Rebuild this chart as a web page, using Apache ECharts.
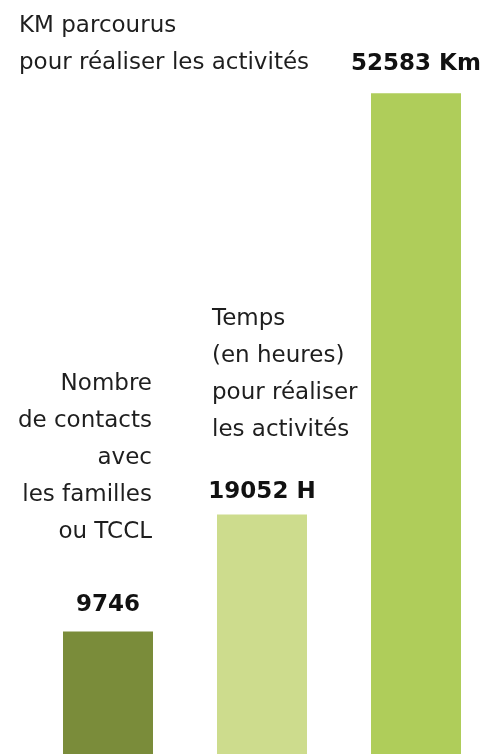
<!DOCTYPE html>
<html>
<head>
<meta charset="utf-8">
<script src="https://cdn.jsdelivr.net/npm/echarts@6/dist/echarts.min.js"></script>
<style>
  html, body { margin: 0; padding: 0; background: #fff; }
  #chart { width: 487px; height: 754px; }
</style>
</head>
<body>
<div id="chart"></div>
<script>
// data
const categories = ['Contacts', 'Temps', 'KM']
const descriptions = [
  'Nombre\nde contacts\navec\nles familles\nou TCCL',
  'Temps\n(en heures)\npour réaliser\nles activités',
  'KM parcourus\npour réaliser les activités'
]
const values = [9746, 19052, 52583]
const units = ['', ' H', ' Km']

// styles
const barColors = ['#7a8c3a', '#cddc8d', '#afcd5a']
const valueDistance = [15, 11, 18]
const descLabels = [
  { position: ['100%', 0], align: 'right', offset: [-1, -81] },
  { position: [0, 0], align: 'left', offset: [-5, -66] },
  { position: [0, 0], align: 'left', offset: [-352, -12] }
]

const myChart = echarts.init(document.getElementById('chart'))

myChart.setOption({
  animation: false,
  grid: { left: 31, width: 462, top: 0, bottom: 0, outerBoundsMode: 'none', containLabel: false },
  xAxis: {
    type: 'category',
    data: categories,
    show: false
  },
  yAxis: {
    type: 'value',
    min: 0,
    max: 60000,
    show: false
  },
  series: [
    {
      type: 'bar',
      barWidth: 90,
      data: values.map((v, i) => ({
        value: v,
        itemStyle: { color: barColors[i] },
        label: { distance: valueDistance[i] }
      })),
      label: {
        show: true,
        position: 'top',
        fontFamily: 'DejaVu Sans',
        fontWeight: 'bold',
        fontSize: 23,
        lineHeight: 23,
        color: '#111',
        formatter: p => values[p.dataIndex] + units[p.dataIndex]
      }
    },
    {
      // transparent twin of the bars, only carries the description text
      type: 'bar',
      barWidth: 90,
      barGap: '-100%',
      silent: true,
      itemStyle: { color: 'rgba(0,0,0,0)' },
      data: values.map((v, i) => ({
        value: v,
        label: {
          position: descLabels[i].position,
          align: descLabels[i].align,
          offset: descLabels[i].offset
        }
      })),
      label: {
        show: true,
        verticalAlign: 'bottom',
        fontFamily: 'DejaVu Sans',
        fontSize: 23,
        lineHeight: 37,
        color: '#1e1e1e',
        formatter: p => descriptions[p.dataIndex]
      }
    }
  ]
})
</script>
</body>
</html>
